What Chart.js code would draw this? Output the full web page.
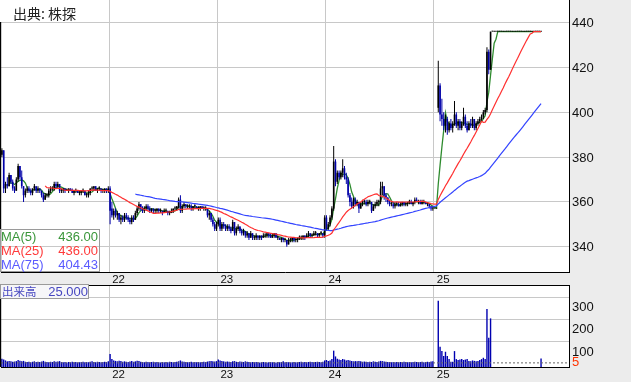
<!DOCTYPE html>
<html lang="ja"><head><meta charset="utf-8">
<title>株価チャート</title>
<script src="https://cdn.jsdelivr.net/npm/chart.js@4.4.1/dist/chart.umd.min.js"></script>
<style>
html,body{margin:0;padding:0;background:#ececec;overflow:hidden}
#wrap{position:relative;width:631px;height:382px;background:#ececec}
#pc{position:absolute;left:0;top:0}
#vc{position:absolute;left:0;top:285px}
#src{position:absolute;left:0;top:0;width:92px;height:22px;background:#fff;font-family:"Noto Sans CJK JP",sans-serif;font-size:14px;line-height:26px;padding-left:13px;box-sizing:border-box;color:#222;white-space:nowrap}
#malg{position:absolute;left:0;top:229px;width:100px;height:43px;border:1px solid #9a9a9a;box-sizing:border-box;font-family:"Liberation Sans",Arial,sans-serif;font-size:13px}
.r{position:absolute;left:0;width:97px;height:14px;line-height:14px;white-space:nowrap}
.r .v{position:absolute;right:0;top:0}
#vlg{position:absolute;left:0;top:284px;width:89px;height:15px;border:1px solid #9a9a9a;box-sizing:border-box;background:#f6f6f8;color:#4646c0;white-space:nowrap}
#vlg .k{position:absolute;left:1px;top:0;font-family:"Noto Sans CJK JP",sans-serif;font-size:11.5px;line-height:13px}
#vlg .v{position:absolute;right:0;top:0;font-family:"Liberation Sans",Arial,sans-serif;font-size:13px;line-height:13px}
</style></head>
<body>
<div id="wrap">
<canvas id="pc" width="631" height="285"></canvas>
<canvas id="vc" width="631" height="97"></canvas>
<div id="src">出典: 株探</div>
<div id="malg"></div>
<div id="vlg"><span class="k">出来高</span><span class="v"></span></div>
</div>
<script>
// ---- data (5-minute bars, 60 bars per day) ----
const dayLabels = ['22','23','24','25'];
const dayFirstBar = [60,120,180,240];
const priceTicks = [340,360,380,400,420,440];
const volumeTicks = [5,100,200,300];
const maPeriods = [5,25,75];
const maLegendValues = ['436.00','436.00','404.43'];
const volumeLegendValue = '25.000';

const opens = [
381,383,366,368,367,372,369,366,365,370, 376,371,367,363,365,366,365,364,366,367,
365,366,365,363,361,363,363,365,366,366, 368,367,368,365,365,366,365,365,366,365,
364,365,365,364,364,365,365,363,363,364, 366,366,367,365,366,366,365,365,366,365,
366,357,354,356,354,355,352,353,352,354, 353,352,351,353,352,355,357,359,357,356,
357,358,357,356,357,356,356,357,356,356, 355,356,356,355,355,356,357,357,358,361,
356,358,359,358,358,358,357,358,358,357, 357,358,357,357,357,354,355,352,350,348,
350,352,348,350,349,348,349,348,347,351, 346,348,349,347,346,347,345,346,344,346,
344,344,345,344,345,344,345,345,346,345, 344,345,346,344,344,343,344,343,343,341,
343,343,344,343,343,344,344,344,345,344, 345,346,345,345,346,346,345,346,346,345,
353,348,350,353,357,378,369,373,371,373, 375,371,370,363,360,358,361,359,360,357,
359,360,360,359,360,360,356,358,359,360, 360,366,367,363,362,360,359,359,358,359,
359,358,359,360,359,359,360,360,359,360, 361,360,360,359,360,360,359,359,358,357,
357,357,402,412,399,397,394,397,392,395, 393,395,399,394,396,393,395,398,394,392,
395,394,397,393,395,396,397,398,400,401, 427,419,436,436,436,436,436,436,436,436,
436,436,436,436,436,436,436,436,436,436, 436,436,436,436,436,436,436,436,436,436
];
const highs = [
384,383,369,371,373,372,370,367,371,377, 376,374,367,366,367,367,366,366,368,367,
367,366,365,364,364,364,366,367,367,369, 369,369,368,366,366,366,366,366,366,366,
365,366,365,365,365,366,365,364,365,366, 367,367,367,366,367,366,366,366,366,367,
367,360,357,357,356,355,354,354,355,355, 354,353,354,354,356,358,360,359,358,358,
359,359,358,357,357,357,357,357,357,356, 357,357,356,356,357,357,358,358,362,363,
359,360,359,359,359,359,358,359,358,358, 358,358,358,358,357,356,355,353,351,351,
353,353,351,351,350,350,350,349,352,351, 349,350,349,348,348,347,347,346,347,346,
345,346,345,345,345,346,346,346,346,346, 346,346,346,345,344,344,344,344,343,344,
344,344,344,344,344,345,345,345,345,346, 347,346,346,347,347,346,346,347,346,354,
354,351,354,358,385,379,374,374,374,379, 376,373,371,364,362,362,362,361,360,360,
361,361,361,361,361,360,359,360,361,361, 369,369,367,364,362,361,360,360,360,360,
360,360,360,360,360,360,361,361,360,362, 362,361,361,361,361,360,360,359,358,358,
357,357,423,413,406,400,399,398,396,397, 396,405,400,397,397,396,402,399,396,396,
397,398,397,396,397,398,399,401,402,429, 428,436,436,436,436,436,436,436,436,436,
436,436,436,436,436,436,436,436,436,436, 436,436,436,436,436,436,436,436,436,436
];
const lows = [
380,364,364,366,367,368,365,364,365,369, 370,366,360,362,364,364,363,363,365,364,
364,364,362,360,361,362,362,364,365,365, 366,366,364,364,364,364,365,364,365,364,
363,364,364,363,363,364,363,362,362,363, 365,365,365,364,365,364,364,364,364,364,
350,353,352,353,352,351,350,351,351,352, 351,350,350,351,352,354,356,356,355,355,
356,356,355,355,355,355,355,355,355,354, 355,355,354,354,355,355,356,356,357,355,
355,357,357,357,357,356,356,357,357,356, 356,357,356,356,353,352,351,349,347,347,
349,347,347,348,347,347,347,346,347,345, 345,347,346,345,345,344,344,343,344,343,
343,343,343,343,343,344,344,344,344,344, 344,344,344,343,343,342,342,342,340,341,
342,342,342,342,342,343,343,343,343,344, 344,344,344,345,345,344,344,345,344,344,
347,347,349,352,356,367,368,370,370,371, 370,368,362,358,357,357,358,358,355,357,
358,359,358,358,359,355,356,357,358,358, 359,363,361,360,359,358,358,357,357,358,
358,358,358,358,358,358,359,359,358,359, 360,359,359,359,359,359,358,357,356,356,
357,357,400,396,394,392,391,390,391,392, 391,394,393,392,392,392,394,393,391,392,
393,393,392,392,394,395,396,397,399,400, 417,419,436,436,436,436,436,436,436,436,
436,436,436,436,436,436,436,436,436,436, 436,436,436,436,436,436,436,436,436,436
];
const closes = [
383,366,368,367,372,369,366,365,370,376, 371,367,363,365,366,365,364,366,367,365,
366,365,363,361,363,363,365,366,366,368, 367,368,365,365,366,365,365,366,365,364,
365,365,364,364,365,365,363,363,364,366, 366,367,365,366,366,365,365,366,365,366,
356,354,356,354,355,352,353,352,354,353, 352,351,353,352,355,357,359,357,356,357,
358,357,356,357,356,356,357,356,356,355, 356,356,355,355,356,357,357,358,361,356,
358,359,358,358,358,357,358,358,357,357, 358,357,357,357,354,355,352,350,348,350,
352,348,350,349,348,349,348,347,351,346, 348,349,347,346,347,345,346,344,346,344,
344,345,344,345,344,345,345,346,345,344, 345,346,344,344,343,344,343,343,341,343,
343,344,343,343,344,344,344,345,344,345, 346,345,345,346,346,345,346,346,345,353,
348,350,353,357,378,369,373,371,373,375, 371,370,363,360,358,361,359,360,357,359,
360,360,359,360,360,356,358,359,360,360, 366,367,363,362,360,359,359,358,359,359,
358,359,360,359,359,360,360,359,360,361, 360,360,359,360,360,359,359,358,357,357,
357,357,412,399,397,394,397,392,395,393, 395,399,394,396,393,395,398,394,392,395,
394,397,393,395,396,397,398,400,401,427, 419,436,436,436,436,436,436,436,436,436,
436,436,436,436,436,436,436,436,436,436, 436,436,436,436,436,436,436,436,436,436
];
const volumes = [
24,20,16,12,14,12,10,11,13,18, 15,12,14,10,9,10,8,10,12,9,
10,9,11,14,10,9,8,10,9,12, 10,11,13,9,8,9,7,9,8,10,
8,9,7,8,9,10,8,9,8,10, 12,9,8,10,9,8,9,10,9,12,
45,22,16,14,12,15,13,10,12,10, 9,11,13,10,12,15,14,10,9,8,
10,9,8,9,10,8,9,8,7,9, 8,9,8,10,9,8,9,10,12,16,
11,10,9,8,9,10,8,9,8,9, 8,9,10,9,11,12,14,12,11,13,
20,16,13,12,10,11,10,9,12,13, 10,9,11,10,9,12,10,9,8,9,
8,9,8,7,8,9,8,7,8,9, 8,8,7,9,8,9,12,8,9,8,
7,8,9,8,8,9,10,8,9,8, 9,10,9,8,9,10,9,8,10,16,
18,14,16,22,60,34,24,20,18,22, 20,16,18,16,14,12,13,12,14,12,
10,11,10,9,10,9,12,10,9,11, 14,13,11,10,9,9,8,9,8,9,
8,9,8,10,9,8,9,8,9,10, 9,8,9,10,8,9,10,9,11,12,
0,0,284,78,58,36,55,36,22,10, 10,58,22,18,20,22,18,20,22,14,
12,16,14,12,14,18,22,28,22,247, 118,205,0,0,0,0,0,0,0,0,
0,0,0,0,0,0,0,0,0,0, 0,0,0,0,0,0,0,0,0,25
];

// ---- styling ----
const X_MIN = -0.5, X_MAX = 314.5;
const UP = '#000000', DOWN = '#0000a8';
const MA_COLORS = ['#2e8b2e', '#ff3030', '#3344ff'];
const LEGEND_COLORS = ['#3a963a', '#ff3a3a', '#5a5aff'];
const GRID = '#c8c8c8';
const FONT = '"Liberation Sans", Arial, sans-serif';

function movingAverage(src, n) {
  const out = []; let s = 0;
  for (let i = 0; i < src.length; i++) {
    s += src[i]; if (i >= n) s -= src[i - n];
    if (i >= n - 1) out.push({x: i, y: s / n});
  }
  return out;
}

// legends (text)
const malg = document.getElementById('malg');
maPeriods.forEach((p, k) => {
  const d = document.createElement('div');
  d.className = 'r'; d.style.top = (k * 14) + 'px'; d.style.color = LEGEND_COLORS[k];
  d.innerHTML = '<span>MA(' + p + ')</span><span class="v">' + maLegendValues[k] + '</span>';
  malg.appendChild(d);
});
document.querySelector('#vlg .v').textContent = volumeLegendValue;

const framePlugin = {
  id: 'frame',
  beforeDraw(chart) {
    const {ctx, chartArea: a} = chart;
    ctx.save(); ctx.fillStyle = '#fff';
    ctx.fillRect(a.left, a.top, a.right - a.left, a.bottom - a.top);
    ctx.restore();
  },
  afterDraw(chart, args, opts) {
    const {ctx, chartArea: a} = chart;
    ctx.save(); ctx.fillStyle = '#000';
    ctx.fillRect(0, a.top, 1.2, a.bottom - a.top);
    if (opts.top) ctx.fillRect(0, a.top, a.right, 1);
    ctx.restore();
  }
};

const barColors = closes.map((c, i) => c >= opens[i] ? UP : DOWN);

function noPad(s) { s.paddingTop = 0; s.paddingBottom = 0; s.paddingLeft = 0; s.paddingRight = 0; }

function xScale(h) {
  return {
    type: 'linear', min: X_MIN, max: X_MAX, offset: false,
    afterBuildTicks: s => { s.ticks = dayFirstBar.map(v => ({value: v - 0.5})); },
    afterFit: s => { s.height = h; noPad(s); },
    grid: {color: GRID, drawTicks: false, offset: false},
    border: {color: '#000', width: 1},
    ticks: {align: 'start', labelOffset: 3, padding: 1, autoSkip: false, maxRotation: 0,
            color: '#111', font: {family: FONT, size: 11.5},
            callback: (v, i) => dayLabels[i]}
  };
}

Chart.defaults.font.family = FONT;

new Chart(document.getElementById('pc'), {
  type: 'bar',
  data: {datasets: [
    {type: 'line', label: 'MA(25)', data: movingAverage(closes, maPeriods[1]), borderColor: MA_COLORS[1], borderWidth: 1.2, pointRadius: 0, order: 0},
    {type: 'line', label: 'MA(75)', data: movingAverage(closes, maPeriods[2]), borderColor: MA_COLORS[2], borderWidth: 1.2, pointRadius: 0, order: 1},
    {label: 'body', data: closes.map((c, i) => ({x: i, y: [opens[i], c]})), backgroundColor: barColors, borderWidth: 0, inflateAmount: 0, barThickness: 1.6, minBarLength: 1, grouped: false, order: 2},
    {label: 'wick', data: closes.map((c, i) => ({x: i, y: [lows[i], highs[i]]})), backgroundColor: barColors, borderWidth: 0, inflateAmount: 0, barThickness: 1, grouped: false, order: 3},
    {type: 'line', label: 'MA(5)', data: movingAverage(closes, maPeriods[0]), borderColor: MA_COLORS[0], borderWidth: 1.3, pointRadius: 0, order: 4}
  ]},
  options: {
    responsive: false, animation: false, devicePixelRatio: 1, events: [],
    layout: {padding: {left: 1, top: 0, right: 0, bottom: 0}},
    plugins: {legend: {display: false}, tooltip: {enabled: false}, frame: {top: false}},
    scales: {
      x: xScale(13),
      y: {
        position: 'right', min: 328.7, max: 450.13,
        afterBuildTicks: s => { s.ticks = priceTicks.map(v => ({value: v})); },
        afterFit: s => { s.width = 62; noPad(s); },
        grid: {color: GRID, drawTicks: false},
        border: {color: '#000', width: 1},
        ticks: {padding: 3, labelOffset: 1, autoSkip: false, color: '#111', font: {family: FONT, size: 13}}
      }
    }
  },
  plugins: [framePlugin]
});

const VOL_MIN = -13.5, VOL_MAX = 355;
new Chart(document.getElementById('vc'), {
  type: 'bar',
  data: {datasets: [
    {type: 'line', label: 'ref', data: [{x: X_MIN, y: volumeTicks[0]}, {x: X_MAX, y: volumeTicks[0]}], borderColor: '#666', borderWidth: 1, borderDash: [2, 2], pointRadius: 0, order: 0},
    {label: '出来高', data: volumes.map((v, i) => ({x: i, y: v > 0 ? v : null})), base: VOL_MIN, backgroundColor: '#0000b0', borderWidth: 0, inflateAmount: 0, barThickness: 1.4, grouped: false, order: 1}
  ]},
  options: {
    responsive: false, animation: false, devicePixelRatio: 1, events: [],
    layout: {padding: {left: 1, top: 0, right: 0, bottom: 0}},
    plugins: {legend: {display: false}, tooltip: {enabled: false}, frame: {top: true}},
    scales: {
      x: xScale(15),
      y: {
        position: 'right', min: VOL_MIN, max: VOL_MAX,
        afterBuildTicks: s => { s.ticks = volumeTicks.map(v => ({value: v})); },
        afterFit: s => { s.width = 62; noPad(s); },
        grid: {drawTicks: false, color: c => (c.tick && c.tick.value === volumeTicks[0]) ? 'rgba(0,0,0,0)' : GRID},
        border: {color: '#000', width: 1},
        ticks: {padding: 3, autoSkip: false,
                color: c => (c.tick && c.tick.value === volumeTicks[0]) ? '#ff3300' : '#111',
                font: {family: FONT, size: 13, lineHeight: 1.6},
                callback: v => v === volumeTicks[0] ? String(v) : ['', String(v)]}
      }
    }
  },
  plugins: [framePlugin]
});
</script>
</body></html>
